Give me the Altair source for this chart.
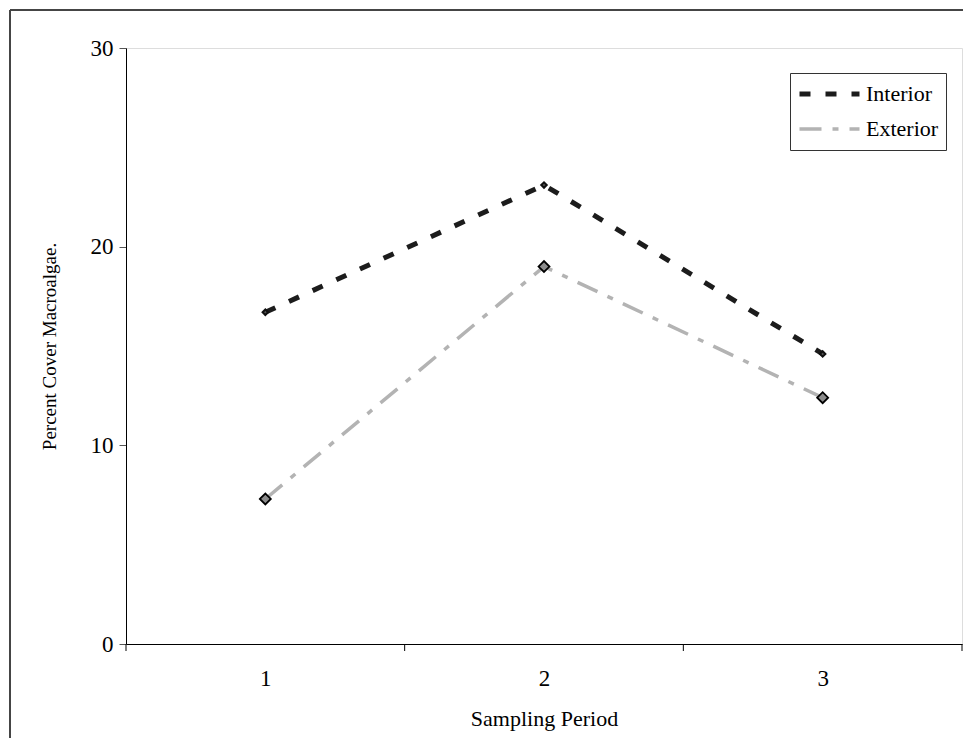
import altair as alt
import pandas as pd

periods = [1, 2, 3]
interior = [16.7, 23.1, 14.6]
exterior = [7.3, 19.0, 12.4]
series_names = ["Interior", "Exterior"]
y_ticks = [0, 10, 20, 30]
x_bounds = [0.5, 1.5, 2.5, 3.5]

rows = []
for p, v in zip(periods, interior):
    rows.append({"period": p, "value": v, "series": "Interior"})
for p, v in zip(periods, exterior):
    rows.append({"period": p, "value": v, "series": "Exterior"})
df = pd.DataFrame(rows)
bounds_df = pd.DataFrame({"b": x_bounds})

FONT = "Liberation Serif"

x_scale = alt.Scale(domain=[0.5, 3.5], nice=False, zero=False)
y_scale = alt.Scale(domain=[0, 30], nice=False)

x_enc = alt.X("period:Q", scale=x_scale,
              axis=alt.Axis(values=periods, title="Sampling Period", ticks=False,
                            labelPadding=23, titlePadding=18, domainColor="black",
                            labelFontSize=23, titleFontSize=22, labelFont=FONT, titleFont=FONT,
                            titleFontWeight="normal",
                            labelColor="black", titleColor="black", grid=False, format="d"))
y_enc = alt.Y("value:Q", scale=y_scale,
              axis=alt.Axis(values=y_ticks, title="Percent Cover Macroalgae.", tickSize=7,
                            tickColor="#555", domainColor="black", labelPadding=6,
                            titlePadding=31, labelFontSize=23, titleFontSize=19,
                            titleFontWeight="normal",
                            labelFont=FONT, titleFont=FONT, labelColor="black",
                            titleColor="black", grid=False))

color_scale = alt.Scale(domain=series_names, range=["#1c1c1c", "#b3b3b3"])
dash_scale = alt.Scale(domain=series_names, range=[[11, 15], [22, 11, 6, 11]])
width_scale = alt.Scale(domain=series_names, range=[5, 3.5])

legend = alt.Legend(title=None, orient="none", legendX=664, legendY=25,
                    strokeColor="#333", padding=7, labelFont=FONT, labelFontSize=22,
                    labelColor="black", symbolSize=3600, symbolStrokeWidth=4.5,
                    clipHeight=28, rowPadding=7, labelOffset=4, symbolType="stroke")

lines = alt.Chart(df).mark_line().encode(
    x=x_enc, y=y_enc,
    color=alt.Color("series:N", scale=color_scale, legend=legend),
    strokeDash=alt.StrokeDash("series:N", scale=dash_scale, legend=legend),
    strokeWidth=alt.StrokeWidth("series:N", scale=width_scale, legend=None),
    order=alt.Order("period:Q"),
)

pts_int = alt.Chart(df[df.series == "Interior"]).mark_point(
    shape="diamond", filled=True, fill="#555", stroke="#111", strokeWidth=2,
    size=30, opacity=1).encode(x="period:Q", y="value:Q")
pts_ext = alt.Chart(df[df.series == "Exterior"]).mark_point(
    shape="diamond", filled=True, fill="#8c8c8c", stroke="black", strokeWidth=1.8,
    size=120, opacity=1).encode(x="period:Q", y="value:Q")

ticks = alt.Chart(bounds_df).mark_rule(color="black", strokeWidth=1).encode(
    x=alt.X("b:Q", scale=x_scale), y=alt.value(596), y2=alt.value(603))

frame_top = alt.Chart(bounds_df).mark_rule(color="#444", strokeWidth=1.5).encode(
    x=alt.value(-116), x2=alt.value(860), y=alt.value(-38))
frame_left = alt.Chart(bounds_df).mark_rule(color="#444", strokeWidth=1.5).encode(
    x=alt.value(-116), y=alt.value(-38), y2=alt.value(720))

chart = alt.layer(frame_top, frame_left, lines, pts_int, pts_ext, ticks).properties(
    width=836, height=596,
    autosize=alt.AutoSizeParams(type="none"),
    padding={"left": 118, "top": 40, "right": 1, "bottom": 94},
).configure_view(stroke="black", strokeWidth=1.5).configure(background="white")

chart.save("out.html", embed_options={"renderer": "svg", "actions": False})
